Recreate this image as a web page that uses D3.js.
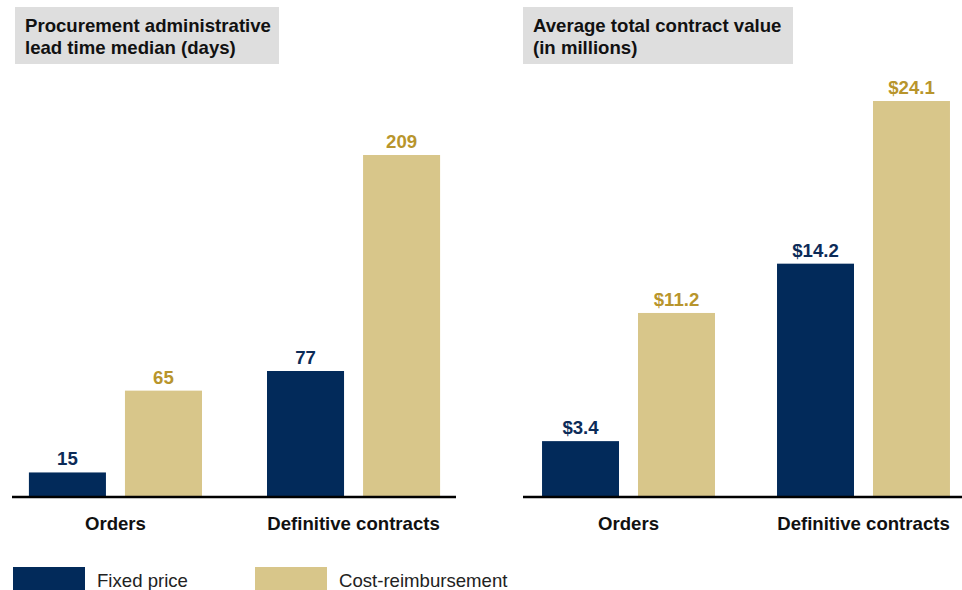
<!DOCTYPE html>
<html>
<head>
<meta charset="utf-8">
<script src="https://cdn.jsdelivr.net/npm/d3@7"></script>
<style>
  body { margin: 0; background: #fff; }
  svg { display: block; font-family: "Liberation Sans", Arial, sans-serif; }
</style>
</head>
<body>
<svg></svg>
<script>
    /* data */
    let categories = ["Orders", "Definitive contracts"];
    let series = ["Fixed price", "Cost-reimbursement"];
    let leadFixed = [15, 77];
    let leadCost = [65, 209];
    let valueFixed = [3.4, 14.2];
    let valueCost = [11.2, 24.1];

    let width = 962;
    let height = 590;
    let baseY = 497;
    let navy = "#022a5a";
    let tan = "#d8c68a";
    let navyText = "#0c2b58";
    let goldText = "#b8952c";
    let fontSize = "18.6px";

    const svg = d3.select("svg").attr("width", width).attr("height", height);

    const drawPanel = (opt) => {
        let g = svg.append("g");

        // title box
        g.append("rect").attr("x", opt.boxX).attr("y", 7)
            .attr("width", opt.boxW).attr("height", 57).attr("fill", "#dedede");
        g.append("text").attr("x", opt.boxX + 10).attr("y", 31.5)
            .attr("font-size", fontSize).attr("font-weight", "bold").attr("fill", "#111")
            .selectAll("tspan").data(opt.title).enter().append("tspan")
            .attr("x", opt.boxX + 10).attr("dy", (d, i) => i == 0 ? 0 : 22)
            .text(d => d);

        let xScale = d3.scaleBand().domain(categories)
            .range(opt.xRange).paddingInner(opt.inner).paddingOuter(opt.outer);
        let xSub = d3.scaleBand().domain(series)
            .range([0, xScale.bandwidth()]).paddingInner(0.198);
        let yScale = d3.scaleLinear().domain([0, d3.max(opt.cost)])
            .range([baseY, opt.topY]);

        let rows = categories.map((c, i) => ({
            cat: c,
            vals: [
                { s: series[0], v: opt.fixed[i], fill: navy, text: navyText },
                { s: series[1], v: opt.cost[i], fill: tan, text: goldText }
            ]
        }));

        let groups = g.selectAll(".grp").data(rows).enter().append("g")
            .attr("class", "grp")
            .attr("transform", d => "translate(" + xScale(d.cat) + ",0)");

        groups.selectAll("rect").data(d => d.vals).enter().append("rect")
            .attr("x", d => xSub(d.s))
            .attr("y", d => yScale(d.v))
            .attr("width", xSub.bandwidth())
            .attr("height", d => baseY - yScale(d.v))
            .attr("fill", d => d.fill);

        groups.selectAll(".lbl").data(d => d.vals).enter().append("text")
            .attr("class", "lbl")
            .attr("x", d => xSub(d.s) + xSub.bandwidth() / 2)
            .attr("y", d => yScale(d.v) - 7)
            .attr("text-anchor", "middle")
            .attr("font-size", fontSize).attr("font-weight", "bold")
            .attr("fill", d => d.text)
            .text(d => opt.fmt(d.v));

        // axis
        let xAxis = d3.axisBottom(xScale).tickSize(0).tickPadding(20);
        let ax = g.append("g").attr("transform", "translate(0," + baseY + ")").call(xAxis);
        ax.select(".domain").remove();
        ax.append("line").attr("x1", opt.lineX[0]).attr("x2", opt.lineX[1])
            .attr("stroke", "#000").attr("stroke-width", 2.5);
        ax.selectAll(".tick text").attr("font-size", fontSize).attr("font-weight", "bold")
            .attr("font-family", "Liberation Sans, Arial, sans-serif").attr("fill", "#111");
    }

    drawPanel({
        title: ["Procurement administrative", "lead time median (days)"],
        boxX: 15, boxW: 264,
        xRange: [12, 457], inner: 0.273, outer: 0.071,
        lineX: [12, 456],
        topY: 155,
        fixed: leadFixed, cost: leadCost,
        fmt: d => d
    });

    drawPanel({
        title: ["Average total contract value", "(in millions)"],
        boxX: 523, boxW: 270,
        xRange: [523, 969], inner: 0.264, outer: 0.081,
        lineX: [523, 962],
        topY: 101,
        fixed: valueFixed, cost: valueCost,
        fmt: d => "$" + d3.format(".1f")(d)
    });

    // legend
    let legend = svg.append("g");
    let legendX = [13, 255];
    series.forEach((s, i) => {
        legend.append("rect").attr("x", legendX[i]).attr("y", 567)
            .attr("width", 72).attr("height", 30).attr("fill", i == 0 ? navy : tan);
        legend.append("text").attr("x", legendX[i] + 84).attr("y", 586.5)
            .attr("font-size", fontSize).attr("fill", "#222").text(s);
    });
</script>
</body>
</html>
